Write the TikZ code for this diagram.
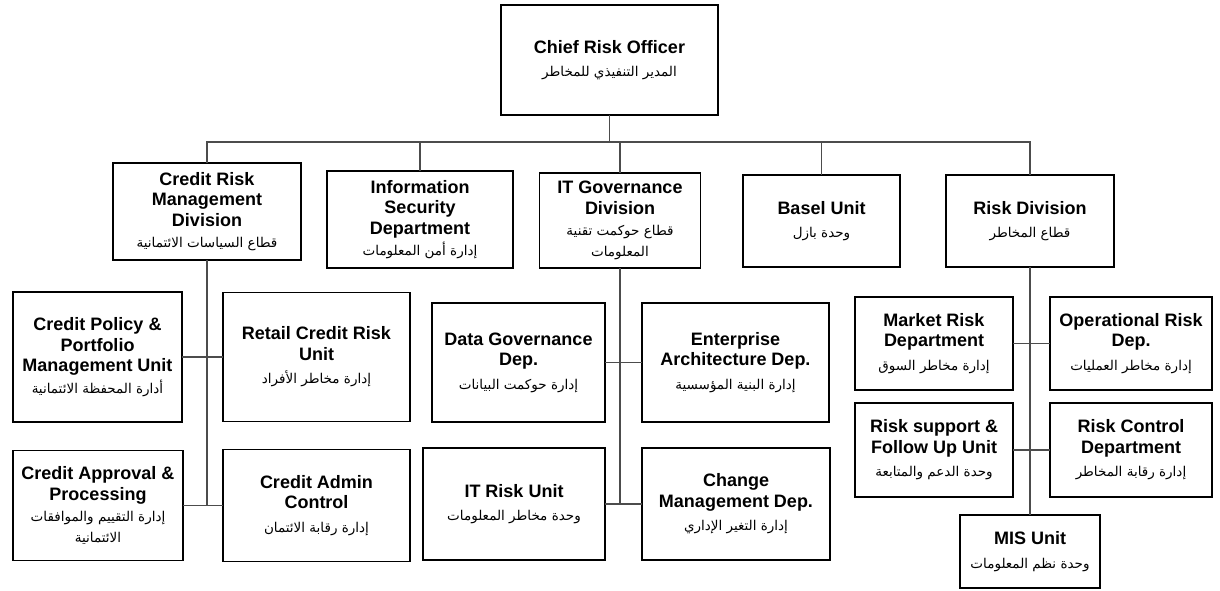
\documentclass[tikz,border=0pt]{standalone}
\usepackage{fontspec}
\setmainfont{Liberation Sans}
\newfontfamily\arabicfont[Script=Arabic]{DejaVu Sans}
\TeXXeTstate=1
\newcommand{\arab}[1]{{\arabicfont\mdseries\fontsize{13.5}{18}\selectfont\beginR #1\endR}}

\begin{document}
\begin{tikzpicture}[x=1pt, y=-1pt]
  \tikzstyle{unit}=[draw, line width=1.7pt, inner sep=0pt, outer sep=0pt, align=center,
    font=\bfseries\fontsize{18}{20.5}\selectfont]
  \tikzstyle{link}=[line width=1.4pt, draw=black!70]
  \useasboundingbox (0,0) rectangle (1220,591);

  % Top and divisions
  \node[unit, minimum width=217, minimum height=110] (cro) at (609.5,60)
    {Chief Risk Officer\\[3pt]\arab{المدير التنفيذي للمخاطر}};
  \node[unit, minimum width=188, minimum height=97] (crd) at (207,211.5)
    {Credit Risk\\Management\\Division\\[1pt]\arab{قطاع السياسات الائتمانية}};
  \node[unit, minimum width=186, minimum height=97] (isec) at (420,219.5)
    {Information\\Security\\Department\\[1pt]\arab{إدارة أمن المعلومات}};
  \node[unit, minimum width=161, minimum height=95] (itgov) at (620,220.5)
    {IT Governance\\Division\\[1pt]\arab{قطاع حوكمت تقنية}\\\arab{المعلومات}};
  \node[unit, minimum width=157, minimum height=92] (basel) at (821.5,221)
    {Basel Unit\\[3pt]\arab{وحدة بازل}};
  \node[unit, minimum width=168, minimum height=92] (riskdiv) at (1030,221)
    {Risk Division\\[3pt]\arab{قطاع المخاطر}};

  % Credit risk units
  \node[unit, minimum width=169, minimum height=130] (cpol) at (97.5,357)
    {Credit Policy \&\\Portfolio\\Management Unit\\[1pt]\arab{أدارة المحفظة الائتمانية}};
  \node[unit, minimum width=187, minimum height=129] (retail) at (316.5,357)
    {Retail Credit Risk\\Unit\\[3pt]\arab{إدارة مخاطر الأفراد}};
  \node[unit, minimum width=170, minimum height=110] (capp) at (98,505.5)
    {Credit Approval \&\\Processing\\[1pt]\arab{إدارة التقييم والموافقات}\\\arab{الائتمانية}};
  \node[unit, minimum width=187, minimum height=112] (cadm) at (316.5,505.5)
    {Credit Admin\\Control\\[3pt]\arab{إدارة رقابة الائتمان}};

  % IT governance units
  \node[unit, minimum width=173, minimum height=119] (datagov) at (518.5,362.5)
    {Data Governance\\Dep.\\[3pt]\arab{إدارة حوكمت البيانات}};
  \node[unit, minimum width=187, minimum height=119] (entarch) at (735.5,362.5)
    {Enterprise\\Architecture Dep.\\[3pt]\arab{إدارة البنية المؤسسية}};
  \node[unit, minimum width=182, minimum height=112] (itrisk) at (514,504)
    {IT Risk Unit\\[3pt]\arab{وحدة مخاطر المعلومات}};
  \node[unit, minimum width=188, minimum height=112] (chg) at (736,504)
    {Change\\Management Dep.\\[3pt]\arab{إدارة التغير الإداري}};

  % Risk division units
  \node[unit, minimum width=158, minimum height=93] (mkt) at (934,343.5)
    {Market Risk\\Department\\[3pt]\arab{إدارة مخاطر السوق}};
  \node[unit, minimum width=162, minimum height=93] (oper) at (1131,343.5)
    {Operational Risk\\Dep.\\[3pt]\arab{إدارة مخاطر العمليات}};
  \node[unit, minimum width=158, minimum height=94] (rsup) at (934,450)
    {Risk support \&\\Follow Up Unit\\[3pt]\arab{وحدة الدعم والمتابعة}};
  \node[unit, minimum width=162, minimum height=94] (rctl) at (1131,450)
    {Risk Control\\Department\\[3pt]\arab{إدارة رقابة المخاطر}};
  \node[unit, minimum width=140, minimum height=73] (mis) at (1030,551.5)
    {MIS Unit\\[3pt]\arab{وحدة نظم المعلومات}};

  % Connectors
  \coordinate (busy) at (0,142);
  \coordinate (bus) at (cro.south |- busy);
  \draw[link] (cro) -- (bus);
  \foreach \d in {crd,isec,itgov,basel,riskdiv}
    \draw[link] (bus) -| (\d);

  \draw[link] (crd) -- (crd |- capp);
  \draw[link] (itgov) -- (itgov |- itrisk);
  \draw[link] (riskdiv) -- (mis);
  \foreach \a/\b in {cpol/retail,capp/cadm,datagov/entarch,itrisk/chg,mkt/oper,rsup/rctl}
    \draw[link] (\a) -- (\b);
\end{tikzpicture}
\end{document}
